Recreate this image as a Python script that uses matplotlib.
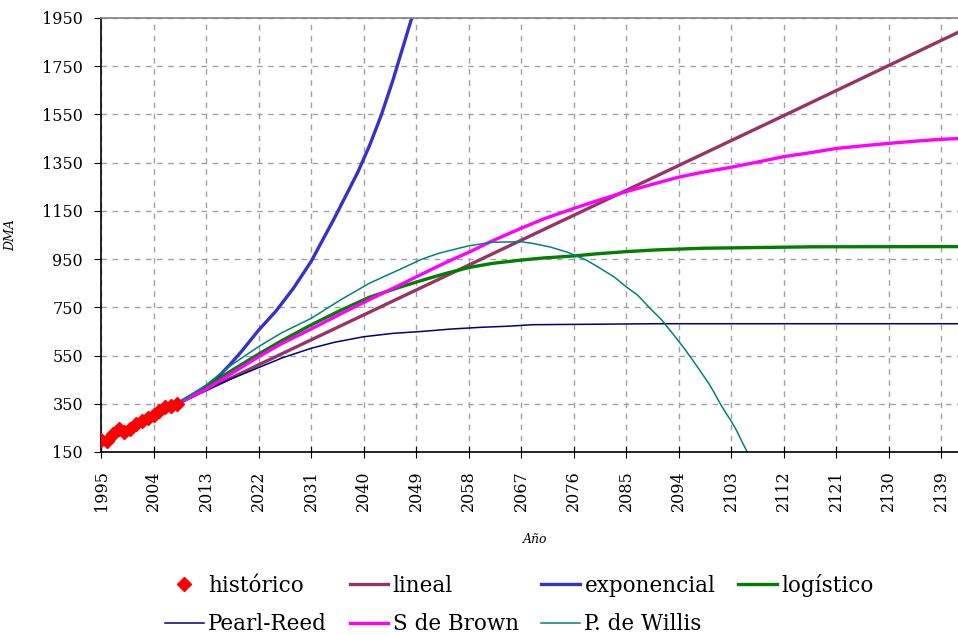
import matplotlib.pyplot as plt
import numpy as np

plt.rcParams['font.family'] = 'DejaVu Serif'

# historic DMA
hist_years = [1995, 1996, 1997, 1998, 1999, 2000, 2001, 2002, 2003, 2004, 2005, 2006, 2007, 2008]
hist_vals = [200, 196, 225, 245, 235, 245, 268, 278, 290, 305, 322, 338, 342, 350]

# model projections
lin_years = [2008, 2031, 2058, 2085, 2112, 2144]
lin_vals = [350, 615, 925, 1235, 1545, 1915]

exp_years = [2008, 2011, 2013, 2015, 2017, 2019, 2022, 2025, 2028, 2031, 2033, 2035,
             2037, 2039, 2041, 2043, 2045, 2047, 2049]
exp_vals = [350, 385, 415, 460, 510, 565, 655, 735, 830, 940, 1030, 1120,
            1215, 1310, 1420, 1545, 1690, 1850, 2010]

log_years = [2008, 2013, 2017, 2022, 2026, 2031, 2036, 2041, 2046, 2050, 2054, 2058,
             2062, 2067, 2071, 2076, 2080, 2085, 2090, 2098, 2117, 2144]
log_vals = [350, 420, 482, 556, 612, 677, 737, 792, 832, 862, 890, 915,
            932, 946, 955, 963, 972, 981, 988, 995, 1001, 1002]

pr_years = [2008, 2013, 2017, 2022, 2026, 2031, 2035, 2040, 2045, 2050, 2055, 2060,
            2065, 2069, 2080, 2090, 2144]
pr_vals = [350, 405, 450, 500, 540, 580, 605, 628, 642, 650, 660, 667,
           672, 678, 680, 682, 682]

sb_years = [2008, 2013, 2017, 2022, 2026, 2031, 2036, 2041, 2046, 2050, 2054, 2058,
            2062, 2067, 2071, 2076, 2080, 2085, 2089, 2094, 2098, 2103, 2108, 2112,
            2117, 2121, 2126, 2130, 2135, 2139, 2144]
sb_vals = [350, 410, 470, 545, 600, 660, 722, 782, 840, 888, 935, 978,
           1025, 1078, 1118, 1160, 1192, 1230, 1257, 1290, 1310, 1331, 1355, 1375,
           1393, 1409, 1421, 1430, 1440, 1447, 1452]

pw_years = [2008, 2013, 2017, 2022, 2026, 2031, 2036, 2041, 2046, 2050, 2053, 2058,
            2062, 2067, 2069, 2072, 2075, 2078, 2080, 2083, 2085, 2087, 2089, 2091,
            2093, 2095, 2097, 2099, 2100, 2101, 2102, 2103, 2104, 2105, 2106]
pw_vals = [350, 428, 505, 587, 645, 704, 780, 850, 905, 950, 975, 1005,
           1020, 1022, 1015, 1000, 978, 948, 920, 875, 835, 800, 748, 700,
           640, 578, 510, 440, 400, 355, 315, 278, 235, 185, 138]

fig = plt.figure(figsize=(9.58, 6.35), dpi=100)
ax = fig.add_axes([101/958, 1 - 452/635, 1 - 101/958 + 0.01, (452 - 18)/635])

h_hist, = ax.plot(hist_years, hist_vals, 'D', color='#ff0000', markersize=7, label='histórico', zorder=5)
h_lin, = ax.plot(lin_years, lin_vals, color='#993366', lw=2.4, label='lineal')
h_exp, = ax.plot(exp_years, exp_vals, color='#3333cc', lw=2.4, label='exponencial')
h_log, = ax.plot(log_years, log_vals, color='#008000', lw=2.4, label='logístico')
h_pr, = ax.plot(pr_years, pr_vals, color='#000080', lw=1.1, label='Pearl-Reed')
h_sb, = ax.plot(sb_years, sb_vals, color='#ff00ff', lw=2.4, label='S de Brown')
h_pw, = ax.plot(pw_years, pw_vals, color='#008080', lw=1.1, label='P. de Willis')

ax.set_xlim(1995, 2143.5)
ax.set_ylim(150, 1950)
ax.set_xticks(np.arange(1995, 2140, 9))
ax.set_yticks(np.arange(150, 1951, 200))
ax.tick_params(axis='x', direction='inout', length=8, labelsize=11.5, rotation=90, pad=9)
ax.tick_params(axis='y', direction='out', length=5, labelsize=11.5, pad=8)
ax.grid(True, color='#a0a0a0', linestyle=(0, (4, 4)), linewidth=1)

for s in ['left', 'bottom']:
    ax.spines[s].set_color('black')
    ax.spines[s].set_linewidth(1.2)
ax.spines['top'].set_color('#808080')
ax.spines['top'].set_linewidth(1.2)
ax.spines['right'].set_visible(False)

ax.set_ylabel('DMA', fontsize=9, style='italic')
ax.set_xlabel('Año', fontsize=9, style='italic')
ax.xaxis.set_label_coords((530 - 101) / 857, -(533 - 452) / 434)
ax.yaxis.set_label_coords(-(101 - 18) / 857, 0.5)

handles = [h_hist, h_pr, h_lin, h_sb, h_exp, h_pw, h_log]
fig.legend(handles=handles, labels=[h.get_label() for h in handles],
           ncol=4, loc='upper left', bbox_to_anchor=(165/958, 1 - 574/635),
           frameon=False, fontsize=15.5, numpoints=1, handlelength=1.8,
           handletextpad=0.2, columnspacing=1.05, labelspacing=0.75,
           borderpad=0, borderaxespad=0)

fig.savefig('out.png', dpi=100)
